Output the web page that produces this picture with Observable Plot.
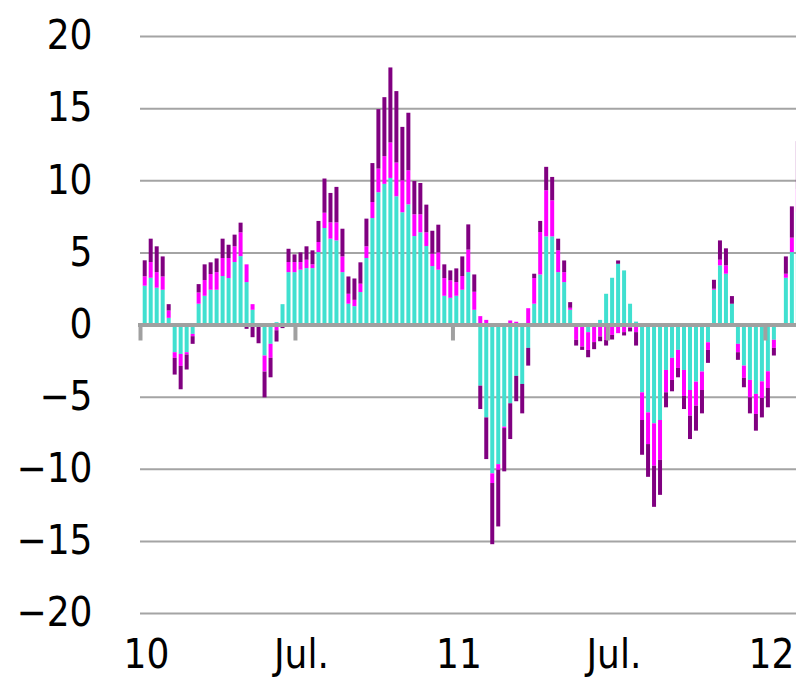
<!DOCTYPE html>
<html>
<head>
<meta charset="utf-8">
<script src="https://cdn.jsdelivr.net/npm/d3@7"></script>
<script src="https://cdn.jsdelivr.net/npm/@observablehq/plot@0.6"></script>
<style>
  html, body { margin: 0; padding: 0; background: #ffffff; overflow: hidden; }
  #chart svg text { font-family: "DejaVu Sans Condensed", "Liberation Sans Narrow", "DejaVu Sans", sans-serif; font-size: 40px; fill: #000; }
</style>
</head>
<body>
<div id="chart"></div>
<script>
// First week of the weekly series (Sunday-based weeks)
const firstWeek = "2010-01-03";

// Series values, one per week
const turquoise = [
  2.69, 3.24, 2.55, 2.41, 0.46, -1.92, -2.04, -1.92, -0.65, 1.44,
  1.99, 2.41, 2.41, 3.36, 3.22, 4.33, 4.74, 2.94, 1.02, -0.05,
  -2.15, -1.34, 0.16, 1.41, 3.63, 3.63, 3.80, 3.91, 3.91, 5.02,
  6.69, 5.95, 5.83, 3.63, 1.44, 1.27, 2.25, 4.61, 7.38, 9.17,
  9.75, 10.16, 8.89, 7.78, 8.33, 6.13, 6.39, 5.44, 4.05, 3.80,
  1.99, 1.85, 1.99, 2.41, 3.63, 1.02, -4.24, -6.44, -10.32, -9.68,
  -7.08, -5.46, -3.56, -4.12, -1.62, 1.44, 3.47, 6.11, 6.11, 3.63,
  2.94, 1.02, -0.05, -0.1, -0.53, -0.1, 0.32, 2.13, 3.24, 4.21,
  3.75, 1.44, 0.2, -4.70, -6.09, -6.85, -6.62, -3.15, -2.31, -1.76,
  -3.15, -4.54, -3.96, -3.26, -1.23, 2.41, 4.10, 3.52, 1.44, -1.34,
  -2.85, -3.84, -4.81, -3.94, -3.24, -1.06, 0, 3.24, 5.02, 7.8
];
const magenta = [
  0.65, 1.09, 1.08, 0.92, 0.51, -0.39, -0.83, -0.16, -0.16, 0.78,
  1.09, 1.09, 1.22, 1.25, 1.39, 1.09, 1.65, 1.23, 0.39, 0,
  -1.11, -0.97, -0.4, 0, 0.70, 0.70, 0.53, 0.58, 0.26, 0.70,
  1.06, 1.13, 1.25, 1.09, 0.69, 0.44, 0.58, 0.81, 1.11, 1.64,
  1.92, 2.46, 2.34, 2.22, 2.36, 1.51, 1.25, 0.95, 0.86, 1.20,
  1.23, 1.21, 0.95, 0.95, 1.56, 1.25, 0.58, 0.32, -0.67, -0.39,
  -0.10, 0.28, 0.19, 0, 1.13, 1.78, 2.94, 3.20, 2.50, 1.51,
  0.69, 0.14, -1.01, -1.43, -1.23, -1.12, -0.83, -1.07, -0.72, -0.6,
  -0.53, -0.23, -0.53, -1.92, -2.20, -2.94, -2.76, -1.55, -1.53, -1.25,
  -1.80, -1.78, -1.67, -1.28, -0.53, 0.07, 0.39, 0.58, 0, -0.58,
  -0.85, -1.21, -1.39, -1.15, -1.16, -0.56, 0, 0.28, 1.00, 1.6
];
const purple = [
  1.11, 1.62, 1.79, 1.39, 0.44, -1.16, -1.62, -1.04, -0.53, 0.58,
  1.09, 0.81, 0.95, 1.34, 0.92, 0.81, 0.67, -0.3, -0.88, -1.25,
  -1.79, -1.35, -0.78, -0.25, 0.92, 0.53, 0.67, 0.93, 0.97, 1.46,
  2.37, 2.04, 2.46, 1.92, 1.20, 1.48, 1.48, 1.92, 2.70, 4.12,
  4.09, 5.20, 4.95, 3.70, 3.99, 2.31, 2.17, 1.92, 1.59, 1.92,
  0.95, 0.69, 0.95, 1.36, 1.75, 1.20, -1.62, -2.89, -4.24, -3.93,
  -3.00, -2.48, -1.76, -2.04, -1.23, 0.30, 0.77, 1.62, 1.62, 0.81,
  0.81, 0.39, -0.40, -0.23, -0.51, -0.49, -0.33, -0.39, -0.32, 0.23,
  -0.23, -0.25, -0.93, -2.41, -2.27, -2.85, -2.43, -1.04, -0.79, -0.65,
  -0.91, -1.62, -1.73, -1.62, -0.90, 0.62, 1.34, 1.18, 0.53, -0.53,
  -0.65, -1.11, -1.16, -1.35, -1.34, -0.53, 0, 1.20, 2.17, 3.31
];

const seriesNames = ["turquoise", "magenta", "purple"];
const seriesColors = ["#3fcfcf", "#ff00ff", "#800080"];

const xTickDates = ["2010-01-01", "2010-07-01", "2011-01-01", "2011-07-01", "2012-01-01"];
const xTickLabels = ["10", "Jul.", "11", "Jul.", "12"];
const xDomain = ["2010-01-01", "2012-02-06T08:00:00Z"];

const yTicks = [-20, -15, -10, -5, 0, 5, 10, 15, 20];
const yTickLabels = ["−20", "−15", "−10", "−5", "0", "5", "10", "15", "20"];
const gridValues = [-20, -15, -10, -5, 5, 10, 15, 20];

// Build tidy table
const start = new Date(firstWeek + "T00:00:00Z");
const seriesValues = [turquoise, magenta, purple];
const data = [];
for (let i = 0; i < turquoise.length; i++) {
  const date = d3.utcWeek.offset(start, i);
  seriesNames.forEach((s, k) => data.push({date, series: s, value: seriesValues[k][i]}));
}

const tickDates = xTickDates.map(d => new Date(d + "T00:00:00Z"));
const xLabelMap = new Map(tickDates.map((d, i) => [+d, xTickLabels[i]]));
const yLabelMap = new Map(yTicks.map((v, i) => [v, yTickLabels[i]]));

const hasAxisMarks = typeof Plot.axisX === "function";
const xAxisOpts = {
  ticks: tickDates,
  tickFormat: d => xLabelMap.get(+d),
  tickSize: 0,
  tickPadding: 26,
  label: null
};

const chart = Plot.plot({
  width: 796,
  height: 678,
  marginLeft: 140,
  marginRight: 0,
  marginTop: 36,
  marginBottom: 65,
  style: {background: "#ffffff", overflow: "hidden"},
  x: Object.assign({
    type: "utc",
    domain: xDomain.map(d => new Date(d.length > 10 ? d : d + "T00:00:00Z"))
  }, hasAxisMarks ? {axis: null} : xAxisOpts),
  y: {
    domain: [-20, 20],
    ticks: yTicks,
    tickFormat: d => yLabelMap.get(d),
    tickSize: 0,
    tickPadding: 48,
    label: null
  },
  color: {domain: seriesNames, range: seriesColors},
  marks: [
    Plot.ruleY(gridValues, {stroke: "#a4a4a4", strokeWidth: 2}),
    Plot.rectY(data, {
      x1: "date",
      x2: d => d3.utcWeek.offset(d.date, 1),
      y: "value",
      fill: "series",
      insetLeft: 1,
      insetRight: 1,
      clip: true
    }),
    Plot.ruleY([0], {stroke: "#a0a0a0", strokeWidth: 4, insetLeft: -2}),
    Plot.ruleX(tickDates, {x: d => d, y1: 0, y2: 0, insetBottom: -16, stroke: "#a0a0a0", strokeWidth: 4}),
    hasAxisMarks ? Plot.axisX(Object.assign({}, xAxisOpts, {dx: 6})) : null
  ]
});
document.getElementById("chart").appendChild(chart);
</script>
</body>
</html>
